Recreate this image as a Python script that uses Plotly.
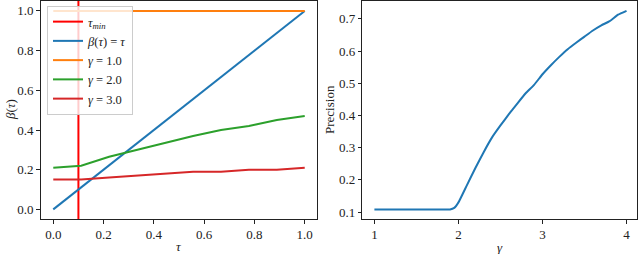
import plotly.graph_objects as go

# ---- data ----
tau = [0.0, 0.111, 0.222, 0.333, 0.444, 0.556, 0.667, 0.778, 0.889, 1.0]
beta_identity = [0.0, 0.111, 0.222, 0.333, 0.444, 0.556, 0.667, 0.778, 0.889, 1.0]
beta_g1 = [1.0, 1.0, 1.0, 1.0, 1.0, 1.0, 1.0, 1.0, 1.0, 1.0]
beta_g2 = [0.21, 0.22, 0.265, 0.30, 0.335, 0.37, 0.40, 0.42, 0.45, 0.47]
beta_g3 = [0.15, 0.15, 0.16, 0.17, 0.18, 0.19, 0.19, 0.20, 0.20, 0.21]
tau_min = 0.1

gamma = [1.0, 1.1, 1.2, 1.3, 1.4, 1.5, 1.6, 1.7, 1.8, 1.9, 1.95, 2.0,
         2.1, 2.2, 2.3, 2.4, 2.5, 2.6, 2.7, 2.8, 2.9, 3.0,
         3.1, 3.2, 3.3, 3.4, 3.5, 3.6, 3.7, 3.8, 3.9, 4.0]
precision = [0.108, 0.108, 0.108, 0.108, 0.108, 0.108, 0.108, 0.108, 0.108, 0.108, 0.113, 0.130,
             0.183, 0.236, 0.286, 0.332, 0.369, 0.404, 0.437, 0.469, 0.495, 0.528,
             0.556, 0.582, 0.606, 0.626, 0.645, 0.664, 0.680, 0.693, 0.713, 0.725]

left_yticks = [0.0, 0.2, 0.4, 0.6, 0.8, 1.0]
left_xticks = [0.0, 0.2, 0.4, 0.6, 0.8, 1.0]
right_yticks = [0.1, 0.2, 0.3, 0.4, 0.5, 0.6, 0.7]
right_xticks = [1, 2, 3, 4]

left_range = [-0.05, 1.05]

FONT = "'Liberation Serif', 'DejaVu Serif', serif"
BLUE, ORANGE, GREEN, RED = "#1f77b4", "#ff7f0e", "#2ca02c", "#d62728"

fig = go.Figure()

fig.add_trace(go.Scatter(x=[tau_min, tau_min], y=left_range, mode="lines",
                         line=dict(color="#ff0000", width=2),
                         name="<i>τ<sub>min</sub></i>", xaxis="x", yaxis="y"))
fig.add_trace(go.Scatter(x=tau, y=beta_identity, mode="lines",
                         line=dict(color=BLUE, width=2),
                         name="<i>β</i>(<i>τ</i>) = <i>τ</i>", xaxis="x", yaxis="y"))
fig.add_trace(go.Scatter(x=tau, y=beta_g1, mode="lines",
                         line=dict(color=ORANGE, width=2),
                         name="<i>γ</i> = 1.0", xaxis="x", yaxis="y"))
fig.add_trace(go.Scatter(x=tau, y=beta_g2, mode="lines",
                         line=dict(color=GREEN, width=2),
                         name="<i>γ</i> = 2.0", xaxis="x", yaxis="y"))
fig.add_trace(go.Scatter(x=tau, y=beta_g3, mode="lines",
                         line=dict(color=RED, width=2),
                         name="<i>γ</i> = 3.0", xaxis="x", yaxis="y"))

fig.add_trace(go.Scatter(x=gamma, y=precision, mode="lines",
                         line=dict(color=BLUE, width=2, shape="spline", smoothing=0.4),
                         showlegend=False, xaxis="x2", yaxis="y2"))

axis_common = dict(showline=True, linecolor="#222", linewidth=1, mirror=True,
                   ticks="outside", ticklen=3.5, tickwidth=1, tickcolor="#222",
                   showgrid=False, zeroline=False, automargin=False,
                   tickfont=dict(family=FONT, size=13, color="#222"))

W, H = 640, 254
def px(x): return x / W
def py(y): return 1 - y / H

fig.update_layout(
    template="none",
    width=W, height=H,
    margin=dict(l=0, r=0, t=0, b=0, pad=0),
    paper_bgcolor="white", plot_bgcolor="white",
    font=dict(family=FONT, size=13, color="#222"),
    xaxis=dict(domain=[px(40.7), px(317.3)], range=left_range,
               tickvals=left_xticks, tickformat=".1f", anchor="y", **axis_common),
    yaxis=dict(domain=[py(219.3), py(1)], range=left_range,
               tickvals=left_yticks, tickformat=".1f", anchor="x", **axis_common),
    xaxis2=dict(domain=[px(362.3), px(637.3)], range=[0.856, 4.128],
                tickvals=right_xticks, tickformat="d", anchor="y2", **axis_common),
    yaxis2=dict(domain=[py(219.3), py(1)], range=[0.0775, 0.7555],
                tickvals=right_yticks, tickformat=".1f", anchor="x2", **axis_common),
    legend=dict(x=px(47), y=py(6), xanchor="left", yanchor="top",
                bgcolor="rgba(255,255,255,0.8)", bordercolor="#cccccc", borderwidth=1,
                font=dict(family=FONT, size=12.5, color="#222"),
                itemwidth=30, tracegroupgap=0),
    showlegend=True,
)

ann = dict(showarrow=False, xref="paper", yref="paper",
           font=dict(family=FONT, size=13, color="#222"))
fig.add_annotation(text="<i>β</i>(<i>τ</i>)", x=px(10), y=py(110), textangle=-90,
                   xanchor="center", yanchor="middle", **ann)
fig.add_annotation(text="<i>τ</i>", x=px(179), y=py(246), xanchor="center", yanchor="middle", **ann)
fig.add_annotation(text="Precision", x=px(329), y=py(110), textangle=-90,
                   xanchor="center", yanchor="middle", **ann)
fig.add_annotation(text="<i>γ</i>", x=px(500), y=py(247), xanchor="center", yanchor="middle", **ann)

fig.write_html("out.html", config={"displayModeBar": False},
               post_script="document.body.style.margin='0';document.body.style.overflow='hidden';")
